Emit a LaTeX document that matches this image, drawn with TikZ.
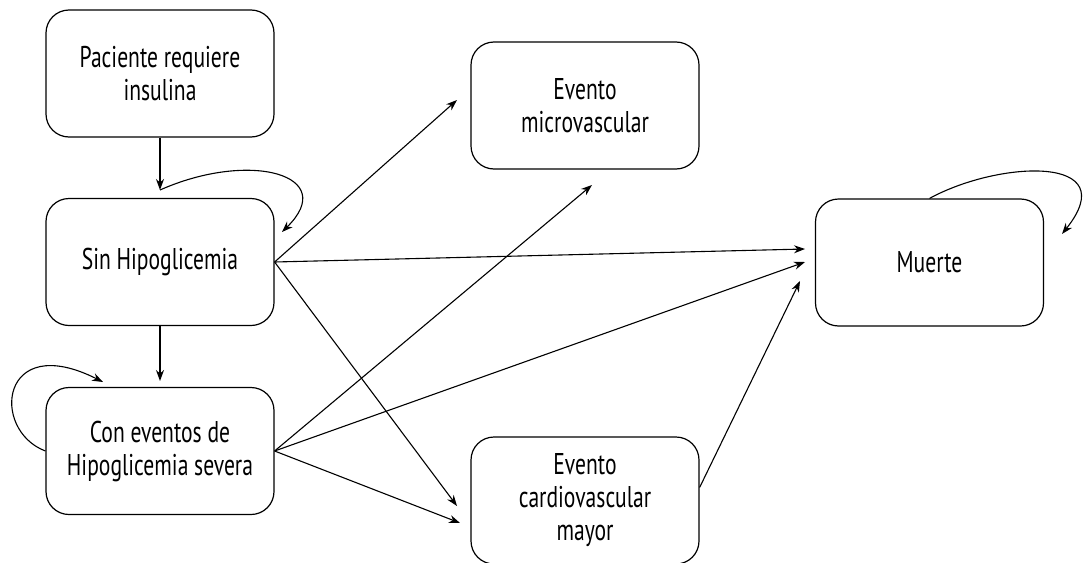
\documentclass[tikz,border=0pt]{standalone}
\usepackage{fontspec}
\setmainfont{PT Sans}[FakeStretch=0.72]
\usetikzlibrary{arrows.meta}

\begin{document}
\begin{tikzpicture}[x=1pt,y=-1pt,
  estado/.style={draw,line width=1.2pt,rounded corners=23pt,align=center,
    minimum width=228pt,minimum height=127pt,
    font=\fontsize{30}{33}\selectfont},
  flecha/.style={line width=1.1pt,-{Stealth[length=11pt,width=8pt]}}]
\useasboundingbox (0,0) rectangle (1086,562);
% estados
\node [estado] (pac) at (160,73.5) {Paciente requiere\\insulina};
\node [estado] (sin) at (160,262) {Sin Hipoglicemia};
\node [estado] (con) at (160,451) {Con eventos de\\Hipoglicemia severa};
\node [estado] (micro) at (585,105.5) {Evento\\microvascular};
\node [estado] (muerte) at (929.5,262.5) {Muerte};
\node [estado] (cardio) at (585,500.5) {Evento\\cardiovascular\\mayor};
% puntas
\coordinate (sinin) at (160,190);
\coordinate (conin) at (160,381);
\coordinate (micro1) at (457,100);
\coordinate (micro2) at (592,185);
\coordinate (muerte1) at (805,249);
\coordinate (muerte2) at (805,262);
\coordinate (muerte3) at (800,281);
\coordinate (cardio1) at (457,506);
\coordinate (cardio2) at (460,523);
% transiciones
\draw [flecha] (pac) -- (sinin);
\draw [flecha] (sin) -- (conin);
\draw [flecha] (sinin) .. controls (250,150) and (340,175) .. (282,232);
\draw [flecha] (con.west) .. controls (-10,430) and (0,330) .. (103,382);
\draw [flecha] (muerte.north) .. controls (1000,160) and (1125,155) .. (1062,234);
\draw [flecha] (sin.east) -- (micro1);
\draw [flecha] (sin.east) -- (muerte1);
\draw [flecha] (sin.east) -- (cardio1);
\draw [flecha] (con.east) -- (micro2);
\draw [flecha] (con.east) -- (muerte2);
\draw [flecha] (con.east) -- (cardio2);
\draw [flecha] ([yshift=13pt]cardio.east) -- (muerte3);
\end{tikzpicture}
\end{document}
